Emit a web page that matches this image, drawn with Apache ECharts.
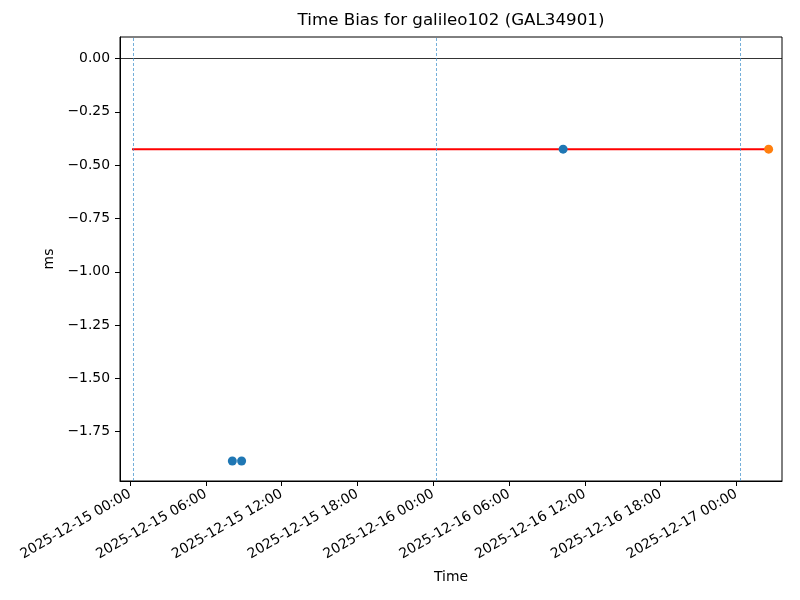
<!DOCTYPE html>
<html>
<head>
<meta charset="utf-8">
<title>Time Bias</title>
<script src="https://cdn.jsdelivr.net/npm/echarts@6/dist/echarts.min.js"></script>
<style>
  * { margin: 0; padding: 0; }
  #chart { width: 800px; height: 600px; background: #fff; }
</style>
</head>
<body>
<div id="chart"></div>
<script>
// measurements (UTC)
var blueTimes = ['2025-12-15T08:06:00Z', '2025-12-15T08:50:00Z', '2025-12-16T10:17:00Z'];
var blueValues = [-1.887, -1.887, -0.425];
var orangeTimes = ['2025-12-17T02:33:00Z'];
var orangeValues = [-0.425];
// mean line
var meanTimes = ['2025-12-15T00:09:30Z', '2025-12-17T02:33:00Z'];
var meanValues = [-0.425, -0.425];
// day markers
var dayLines = ['2025-12-15T00:16:00Z', '2025-12-16T00:14:00Z', '2025-12-17T00:19:00Z'];
// axes
var xRange = ['2025-12-14T23:12:30Z', '2025-12-17T03:36:30Z'];
var xTicks = ['2025-12-15T00:00:00Z', '2025-12-15T06:00:00Z', '2025-12-15T12:00:00Z',
  '2025-12-15T18:00:00Z', '2025-12-16T00:00:00Z', '2025-12-16T06:00:00Z',
  '2025-12-16T12:00:00Z', '2025-12-16T18:00:00Z', '2025-12-17T00:00:00Z'];
var yTicks = [0, -0.25, -0.5, -0.75, -1, -1.25, -1.5, -1.75];
var yRange = [-1.981, 0.101];

function pairs(ts, vs) {
  return ts.map(function (t, i) { return [Date.parse(t), vs[i]]; });
}
function pad(n) { return (n < 10 ? '0' : '') + n; }
function fmtTime(v) {
  var d = new Date(v);
  return d.getUTCFullYear() + '-' + pad(d.getUTCMonth() + 1) + '-' + pad(d.getUTCDate()) +
    ' ' + pad(d.getUTCHours()) + ':' + pad(d.getUTCMinutes());
}

var font = 'DejaVu Sans';
var chart = echarts.init(document.getElementById('chart'), null, { renderer: 'canvas' });

chart.setOption({
  animation: false,
  backgroundColor: '#fff',
  title: {
    text: 'Time Bias for galileo102 (GAL34901)',
    left: 451,
    top: 12,
    textAlign: 'center',
    padding: 0,
    textStyle: { fontFamily: font, fontSize: 16.7, fontWeight: 'normal', color: '#000' }
  },
  grid: {
    left: 120, right: 18, top: 37, bottom: 119,
    containLabel: false,
    outerBoundsMode: 'none',
    show: true, borderColor: '#000', borderWidth: 1, backgroundColor: '#fff'
  },
  xAxis: {
    type: 'value',
    min: Date.parse(xRange[0]),
    max: Date.parse(xRange[1]),
    name: 'Time',
    nameLocation: 'middle',
    nameGap: 89,
    nameTextStyle: { fontFamily: font, fontSize: 13.9, color: '#000' },
    splitLine: { show: false },
    axisLine: { show: true, onZero: false, lineStyle: { color: '#000', width: 1 } },
    axisTick: {
      show: true, length: 5, lineStyle: { color: '#000', width: 1 },
      customValues: xTicks.map(function (t) { return Date.parse(t); })
    },
    axisLabel: {
      rotate: 30,
      margin: 12,
      fontFamily: font, fontSize: 13.9, color: '#000',
      customValues: xTicks.map(function (t) { return Date.parse(t); }),
      formatter: fmtTime
    }
  },
  yAxis: {
    type: 'value',
    min: yRange[0],
    max: yRange[1],
    name: 'ms',
    nameLocation: 'middle',
    nameRotate: 90,
    nameGap: 60,
    nameTextStyle: { fontFamily: font, fontSize: 13.9, color: '#000' },
    splitLine: { show: false },
    axisLine: { show: true, onZero: false, lineStyle: { color: '#000', width: 1 } },
    axisTick: {
      show: true, length: 5, lineStyle: { color: '#000', width: 1 },
      customValues: yTicks
    },
    axisLabel: {
      margin: 10,
      fontFamily: font, fontSize: 13.9, color: '#000',
      customValues: yTicks,
      formatter: function (v) { return v.toFixed(2).replace('-', '\u2212'); }
    }
  },
  series: [
    {
      type: 'line',
      data: pairs(meanTimes, meanValues),
      symbol: 'none',
      lineStyle: { color: '#ff0000', width: 2 },
      z: 2,
      markLine: {
        silent: true,
        symbol: 'none',
        label: { show: false },
        data: [
          { yAxis: 0, lineStyle: { color: '#000', width: 0.8, type: 'solid' } }
        ].concat(dayLines.map(function (t) {
          return { xAxis: Date.parse(t), lineStyle: { color: '#3d8fcc', width: 0.8, type: [3, 2], opacity: 0.9 } };
        }))
      }
    },
    {
      type: 'scatter',
      data: pairs(blueTimes, blueValues),
      symbolSize: 9,
      itemStyle: { color: '#1f77b4', opacity: 1 },
      z: 3
    },
    {
      type: 'scatter',
      data: pairs(orangeTimes, orangeValues),
      symbolSize: 9,
      itemStyle: { color: '#ff7f0e', opacity: 1 },
      z: 3
    }
  ]
});
</script>
</body>
</html>
